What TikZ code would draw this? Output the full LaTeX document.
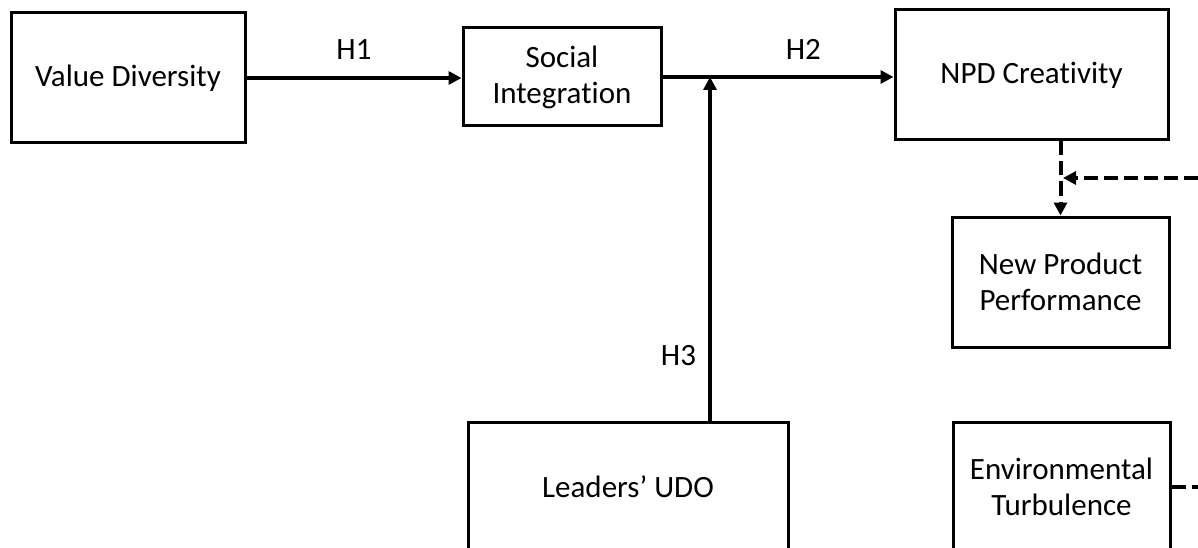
\documentclass[tikz,border=0pt]{standalone}
\usepackage{fontspec}
\setmainfont[Ligatures=NoCommon]{Carlito}
\usetikzlibrary{arrows.meta,calc}
\begin{document}
\begin{tikzpicture}[x=1pt,y=-1pt,
  box/.style={draw=black,line width=3pt,fill=white,inner sep=0pt,align=center,font=\fontsize{31}{36}\selectfont},
  conn/.style={line width=4pt,-{Triangle[length=13pt,width=13pt]}},
  dconn/.style={conn,dash pattern=on 14pt off 6pt},
  lbl/.style={font=\fontsize{31}{36}\selectfont,inner sep=0pt}]
\useasboundingbox (0,0) rectangle (1198,548);
\node[box,minimum width=234pt,minimum height=130pt] (vd) at (128,78) {Value Diversity};
\node[box,minimum width=198pt,minimum height=98pt] (si) at (562,77) {Social\\Integration};
\node[box,minimum width=273pt,minimum height=130pt] (npd) at (1031.5,75) {\raisebox{-3pt}{NPD Creativity}};
\node[box,minimum width=217pt,minimum height=130pt] (npp) at (1060.5,282) {New Product\\Performance};
\node[box,minimum width=320pt,minimum height=130pt] (udo) at (628,487) {Leaders’ UDO};
\node[box,minimum width=217pt,minimum height=130pt] (env) at (1061.5,487) {Environmental\\Turbulence};
\coordinate (j) at (710,77);
\coordinate (m) at (1063,178);
\coordinate (c1) at (1200,487);
\coordinate (c2) at (1200,178);
\draw[conn] (vd.east |- 0,78) -- (si.west |- 0,78) node[lbl,midway,above=16pt] {H1};
\draw[conn] (si.east) -- (si.east -| npd.west) node[lbl,pos=0.61,above=15pt] {H2};
\draw[conn] (udo.north -| j) -- (j) node[lbl,pos=0.19,left=12pt] {H3};
\draw[dconn] (npp.north |- npd.south) -- (npp.north);
\draw[dconn] (env.east) -- (c1) -- (c2) -- (m);
\end{tikzpicture}
\end{document}
